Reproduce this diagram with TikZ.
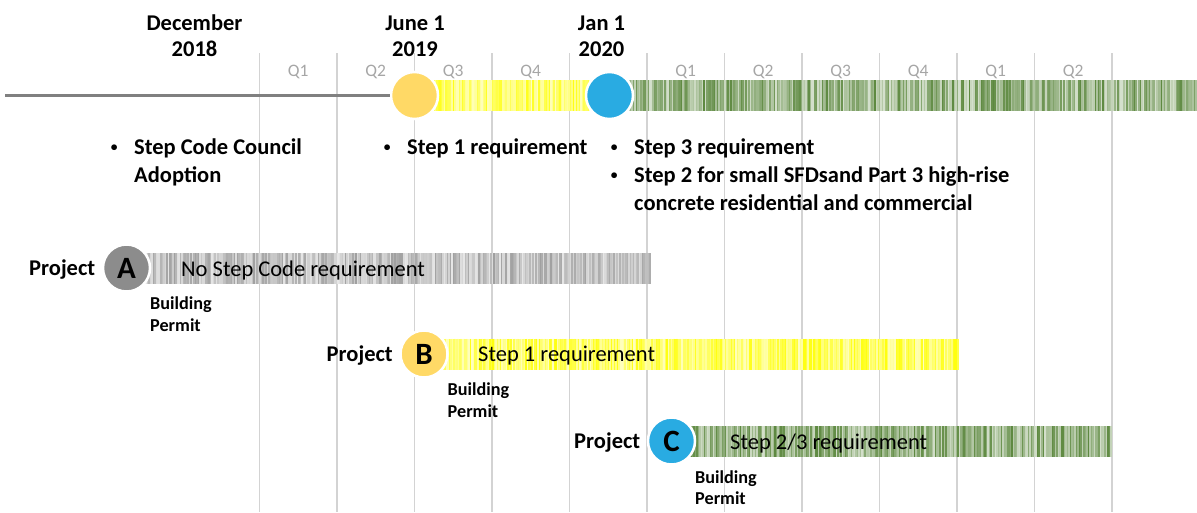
\documentclass[tikz,border=0pt]{standalone}
\usepackage{fontspec}
\setmainfont{Carlito}
\usetikzlibrary{positioning, calc}
\definecolor{gridgrey}{HTML}{D3D3D3}
\definecolor{qgrey}{HTML}{A6A6A6}
\definecolor{linegrey}{HTML}{808080}
\definecolor{stepgold}{HTML}{FFD966}
\definecolor{stepblue}{HTML}{29ABE2}
\definecolor{stepgrey}{HTML}{8C8C8C}
\definecolor{baryellow}{HTML}{FFFF00}
\definecolor{bargreen}{HTML}{548235}
\definecolor{bargrey}{HTML}{9A9A9A}
\newcommand{\stepdot}[3]{\node[stepdot, #3] (#1) {#2};}
\newcommand{\stripebar}[5]{% name, from x, to x, mid y, colour
  \pgfmathtruncatemacro{\nstripe}{(#3-#2)/1.5}
  \foreach \k in {0,...,\nstripe}{
    \pgfmathsetmacro{\sx}{#2+1.5*\k}
    \pgfmathtruncatemacro{\tint}{25+70*rnd}
    \draw[#5!\tint!white, line width=1.1] (\sx,#4-15.5) -- (\sx,#4+15.5);
  }
  \coordinate (#1) at (#2,#4);}
\newcommand{\notedot}{\makebox[11pt]{\raisebox{3pt}{\scalebox{0.6}{•}}}}
\newcommand{\twolines}[2]{\begin{tabular}[t]{@{}l@{}}#1\\#2\end{tabular}}

\begin{document}
\begin{tikzpicture}[x=1pt, y=-1pt,
  gridline/.style={draw=gridgrey, line width=1.3},
  quarter/.style={text=qgrey, font=\fontsize{17.5}{18}\selectfont, anchor=base, inner sep=0},
  datelabel/.style={font=\fontsize{22.5}{26}\selectfont\bfseries, anchor=base, inner sep=0},
  note/.style={font=\fontsize{22.5}{28}\selectfont\bfseries, anchor=base west, inner sep=0},
  stepdot/.style={circle, draw=white, line width=2.5, minimum size=47, inner sep=0, font=\fontsize{31}{32}\selectfont\bfseries},
  project/.style={font=\fontsize{22.5}{26}\selectfont\bfseries, anchor=base east, inner sep=0},
  bartext/.style={font=\fontsize{22.5}{26}\selectfont, anchor=base west, inner sep=0},
  permit/.style={font=\fontsize{18.2}{21.5}\selectfont\bfseries, anchor=base west, inner sep=0},
  timeline/.style={draw=linegrey, line width=3}]

\useasboundingbox (0,0) rectangle (1197,512);
\pgfmathsetseed{11}

% quarter grid
\foreach \i in {0,...,11}
  \draw[gridline] (259.5+77.5*\i,53) -- (259.5+77.5*\i,512);

% hatched bars
\stripebar{topgold}{414.5}{609.5}{95.5}{baryellow}
\stripebar{topgreen}{609.5}{1197}{95.5}{bargreen}
\stripebar{barA}{126.5}{650}{268.5}{bargrey}
\stripebar{barB}{424}{958}{354}{baryellow}
\stripebar{barC}{671.5}{1112}{441.5}{bargreen}

\foreach \i/\q in {0/Q1,1/Q2,2/Q3,3/Q4,5/Q1,6/Q2,7/Q3,8/Q4,9/Q1,10/Q2}
  \node[quarter] (q\i) at (298.25+77.5*\i,76.5) {\q};

% time line
\coordinate (start) at (5,95.5);
\stepdot{june}{}{fill=stepgold, at={(414.5,95.5)}}
\stepdot{jan}{}{fill=stepblue, at={(609.5,95.5)}}
\draw[timeline] (start) -- (june);

\node[datelabel] (dec) at (194.5,30) {\begin{tabular}[t]{@{}c@{}}December\\2018\end{tabular}};
\node[datelabel] (junedate) at (415,30) {\begin{tabular}[t]{@{}c@{}}June 1\\2019\end{tabular}};
\node[datelabel] (jandate) at (601.5,30) {\begin{tabular}[t]{@{}c@{}}Jan 1\\2020\end{tabular}};

\node[note] (noteA) at (108.5,154) {\begin{tabular}[t]{@{}c@{\hspace{14.5pt}}l@{}}\notedot & Step Code Council\\ & Adoption\end{tabular}};
\node[note] (noteB) at (381.5,154) {\begin{tabular}[t]{@{}c@{\hspace{14.5pt}}l@{}}\notedot & Step 1 requirement\end{tabular}};
\node[note] (noteC) at (608.5,154) {\begin{tabular}[t]{@{}c@{\hspace{14.5pt}}l@{}}\notedot & Step 3 requirement\\ \notedot & Step 2 for small SFDsand Part 3 high-rise\\ & concrete residential and commercial\end{tabular}};

% projects
\stepdot{circA}{A}{fill=stepgrey, at={(126.5,268)}}
\node[project] (projA) at ($(circA)+(-31,7.5)$) {Project};
\node[bartext] (reqA) at ($(circA)+(54.5,8)$) {No Step Code requirement};
\node[permit] (permitA) at ($(circA)+(23.5,41.5)$) {\twolines{Building}{Permit}};

\stepdot{circB}{B}{fill=stepgold, at={(424,354)}}
\node[project] (projB) at ($(circB)+(-31,7.5)$) {Project};
\node[bartext] (reqB) at ($(circB)+(54,7.5)$) {Step 1 requirement};
\node[permit] (permitB) at ($(circB)+(23.5,41.5)$) {\twolines{Building}{Permit}};

\stepdot{circC}{C}{fill=stepblue, at={(671.5,441)}}
\node[project] (projC) at ($(circC)+(-31,7.5)$) {Project};
\node[bartext] (reqC) at ($(circC)+(58.5,8)$) {Step 2/3 requirement};
\node[permit] (permitC) at ($(circC)+(23.5,42)$) {\twolines{Building}{Permit}};
\end{tikzpicture}
\end{document}
